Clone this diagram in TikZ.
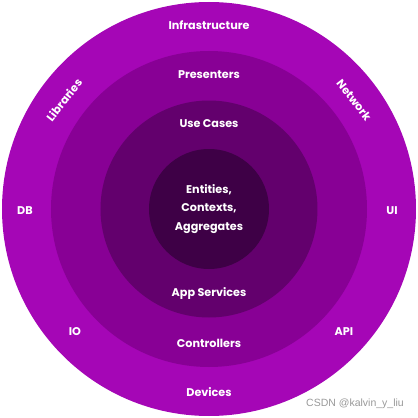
\documentclass[tikz,border=0pt]{standalone}
\usepackage{fontspec}
\setmainfont{Poppins}
\newfontfamily\wmfont{Liberation Sans}

\definecolor{ringA}{HTML}{A506B6}
\definecolor{ringB}{HTML}{880095}
\definecolor{ringC}{HTML}{63006D}
\definecolor{ringD}{HTML}{3E0046}

\begin{document}
\begin{tikzpicture}[
		x=1pt,y=1pt,
		ring/.style={draw=none},
		lab/.style={text=white,font=\fontsize{11.2}{18.5}\selectfont\bfseries,inner sep=1pt,align=center},
		wm/.style={text=black!40,font=\wmfont\fontsize{10.5}{12}\selectfont,inner sep=0pt}
		]
		% ===== Parameters =====
		\def\RA{207}   % outer ring
		\def\RB{158}   % presenters ring
		\def\RC{108.5} % use cases ring
		\def\RD{60}    % core
		\useasboundingbox (-209,-209) rectangle (209,209);
		% ===== Rings =====
		\fill[ring,ringA] (0,0) circle (\RA);
		\fill[ring,ringB] (0,0) circle (\RB);
		\fill[ring,ringC] (0,0) circle (\RC);
		\fill[ring,ringD] (0,0) circle (\RD);
		% ===== Outer ring labels =====
		\node[lab] (infra) at (0,184) {Infrastructure};
		\node[lab] (devices) at (0,-183) {Devices};
		\node[lab] (db) at (-184,-2) {DB};
		\node[lab] (ui) at (183,-2) {UI};
		\node[lab] (io) at (-134,-123) {IO};
		\node[lab] (api) at (135,-123) {API};
		\node[lab,rotate=52] (libs) at (-145,109) {Libraries};
		\node[lab,rotate=-52] (net) at (145,109) {Network};
		% ===== Middle rings =====
		\node[lab] (presenters) at (0,134) {Presenters};
		\node[lab] (controllers) at (0,-134) {Controllers};
		\node[lab] (usecases) at (0,85) {Use Cases};
		\node[lab] (appsvc) at (0,-85) {App Services};
		% ===== Core =====
		\node[lab] (core) at (0,0) {Entities,\\Contexts,\\Aggregates};
		% ===== Watermark =====
		\node[wm] (mark) at (146,-195) {CSDN @kalvin\_y\_liu};
	\end{tikzpicture}
\end{document}
